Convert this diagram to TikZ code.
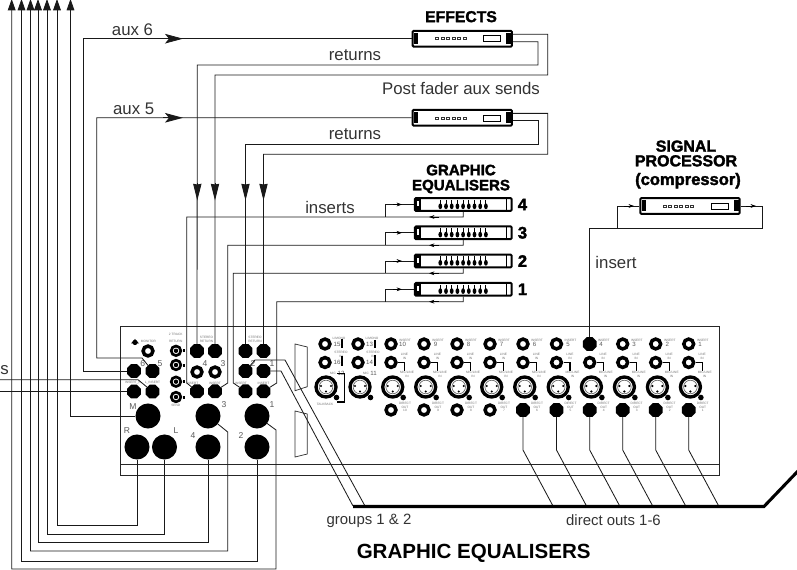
\documentclass[tikz,border=0pt]{standalone}
\usepackage{fontspec}
\setmainfont{Liberation Sans}[BoldFeatures={FakeBold=2}]
\newfontfamily\plainbold{Liberation Sans Bold}
\usetikzlibrary{arrows.meta,calc,shapes.geometric}
\tikzset{
  wire/.style={line width=0.62pt,draw=black!90},
  thickbus/.style={line width=2.3pt,draw=black},
  headh/.style={wire,-{Stealth[length=13.5pt,width=7.2pt,inset=3pt]}},
  headv/.style={wire,-{Stealth[length=12.5pt,width=6.2pt,inset=0.5pt]}},
  headtop/.style={wire,{Stealth[length=8.5pt,width=5.8pt,inset=0pt]}-},
  minihead/.style={line width=0.5pt,-{Stealth[length=4pt,width=2.8pt,inset=1.2pt]}},
  jb/.style={regular polygon,regular polygon sides=8,fill=black,draw=none,inner sep=0pt,outer sep=0pt,minimum size=11.2pt},
  jo/.style={circle,draw=black,fill=white,line width=2.6pt,inner sep=0pt,outer sep=1pt,minimum size=7.4pt},
  jbig/.style={circle,fill=black,inner sep=0pt,outer sep=0pt,minimum size=18.8pt},
  rca/.style={circle,draw=black,fill=white,line width=2pt,inner sep=0pt,outer sep=0pt,minimum size=7.2pt},
  rackbox/.style={rectangle,rounded corners=0.8pt,draw=black,fill=white,line width=1.5pt,inner sep=0pt,minimum width=74.5pt,minimum height=11.8pt},
  eqrack/.style={rackbox,minimum width=72.5pt,minimum height=9.6pt},
  lab/.style={inner sep=0pt,text=black!80,font=\fontsize{12.6}{14}\selectfont},
  lowlab/.style={lab,font=\fontsize{11.2}{13}\selectfont},
  head/.style={inner sep=0pt,align=center,text=black,font=\fontsize{11.8}{11}\selectfont\bfseries},
  sign/.style={inner sep=0pt,text=black!65,font=\fontsize{6.4}{7}\selectfont},
  num/.style={inner sep=0pt,text=black!65,font=\fontsize{4.6}{5}\selectfont},
  tinylab/.style={inner sep=0pt,align=center,text=black!55,font=\fontsize{2.4}{2.9}\selectfont}
}
\newcommand{\effectsbox}[3]{%
  \node[rackbox] (#1) at (#2,#3) {};
  \fill[black] (#2-48,#3-5.5) rectangle (#2-44,#3+5.5);
  \fill[black] (#2+44,#3-5.5) rectangle (#2+49,#3+5.5);
  \foreach \k in {0,1,2,3,4,5} {\draw[line width=0.4pt,black!80] (#2-27+\k*5.5,#3-1) rectangle ++(3.2,2);}
  \draw[line width=0.35pt] (#2+21,#3-3) rectangle (#2+38,#3+3);
}
\newcommand{\eqbox}[2]{%
  \node[eqrack] (#1) at (463.3,#2) {};
  \fill[black] (414.5,#2-6.5) rectangle (421,#2+6.5);
  \fill[white] (416.5,#2-3.3) rectangle (419.4,#2+2);
  \draw[line width=0.4pt] (506.5,#2-6.5) -- (506.5,#2+6.5);
  \foreach \k in {0,...,8} {
    \draw[line width=0.7pt] (440.3+\k*5.7,#2-4.5) -- (440.3+\k*5.7,#2+1);
    \fill[black] (440.3+\k*5.7,#2+1.8) ellipse (1.9 and 2.9);
  }
}
\newcommand{\xlrjack}[3]{%
  \draw[line width=2.5pt,fill=white] (#2,#3) circle (10);
  \draw[line width=0.5pt,black!60] (#2,#3) circle (6.8);
  \fill (#2-5,#3-1) circle (1.2) (#2+5,#3-1) circle (1.2) (#2,#3+4.5) circle (1.2);
  \fill (#2+10.5,#3+10.5) circle (2.8);
  \coordinate (#1) at (#2,#3);
}
\begin{document}
\begin{tikzpicture}[x=0.75pt,y=-0.75pt]
\useasboundingbox (0,0) rectangle (797,570);

% mixer rear panel
\draw[line width=0.7pt,black!85] (120.5,326) rectangle (719,475.7);
\draw[line width=0.7pt,black!85] (120.5,464) -- (719,464);
\draw[line width=0.55pt,black!80] (295,344) -- (307.3,347) -- (307.3,386.7) -- (295,390.7) -- cycle;
\draw[line width=0.55pt,black!80] (295,411) -- (307.3,414) -- (307.3,454) -- (295,457) -- cycle;

% left block
\fill (135,342.5) circle (2.6); \fill (131,343.5) -- (139,343.5) -- (135,339) -- cycle;
\node[tinylab] (tmon) at (148.5,341.7) {MONITOR};
\node[jo] (monjack) at (148,351) {};
\node[jb] (j6) at (134,371) {};
\node[jb] (j5) at (152.5,371) {};
\node[jb] (ri) at (134,391.6) {};
\node[jb] (li) at (152.5,391.6) {};
\node[tinylab] (tri) at (133,382.5) {INSERT\_R};
\node[tinylab] (tli) at (152.5,382.5) {L\_INSERT};
\node[sign] (n6) at (142.7,364) {6};
\node[sign] (n5) at (160,364) {5};
\node[jbig] (jm) at (148,416) {};
\node[jbig] (jr) at (137,447) {};
\node[jbig] (jl) at (164.5,447) {};
\node[jbig] (j3) at (208,416) {};
\node[jbig] (j4big) at (208,447) {};
\node[jbig] (j1big) at (257,416) {};
\node[jbig] (j2big) at (257,447) {};
\node[sign] (lm) at (133,407) {M};
\node[sign] (lr) at (127,431) {R};
\node[sign] (ll) at (176,431) {L};
\node[sign] (l3) at (224,405) {3};
\node[sign] (l4) at (193,436) {4};
\node[sign] (l1) at (272,405) {1};
\node[sign] (l2) at (241,436) {2};

% tape in / out
\node[tinylab] (t2t) at (175.7,334.3) {2 TRACK};
\node[tinylab] (tret) at (175.7,341.2) {RETURN};
\node[tinylab] (tsend) at (175.7,405.8) {SEND};
\node[rca] (ra) at (176,350.8) {}; \fill (176,350.8) circle (2.2);
\node[rca] (rb) at (176,365) {}; \fill (176,365) circle (2.2);
\node[rca] (rc) at (176,381.7) {}; \fill (176,381.7) circle (2.2);
\node[rca] (rd) at (176,397) {}; \fill (176,397) circle (2.2);
\foreach \yy in {351,365.5,382,397.5} {\fill (182.5,\yy-1.5) rectangle (184.5,\yy+1.5);}

% stereo return / group blocks
\node[tinylab] (st1) at (206.5,339.8) {STEREO\\RETURN};
\node[tinylab] (st2) at (255,339.8) {STEREO\\RETURN};
\node[jb] (sra) at (197,351) {};
\node[jb] (srb) at (215,351) {};
\node[jo] (mid4) at (197,372) {};
\node[jo] (mid3) at (215,372) {};
\node[jb] (ina) at (197,391.3) {};
\node[jb] (inb) at (215,391.3) {};
\node[jb] (src) at (245.5,351) {};
\node[jb] (srd) at (263.5,351) {};
\node[jb] (g2) at (245.5,371) {};
\node[jb] (g1) at (263.5,371) {};
\node[jb] (inc) at (245.5,391.3) {};
\node[jb] (ind) at (263.5,391.3) {};
\node[sign] (n4) at (205,364) {4};
\node[sign] (n3) at (223,364) {3};
\node[sign] (n2) at (253,364) {2};
\node[sign] (n1) at (272,364) {1};
\node[tinylab] (ta) at (192.5,383) {INSERT};
\node[tinylab] (tb) at (215,383) {INSERT};
\node[tinylab] (tc) at (241,383) {INSERT};
\node[tinylab] (td) at (263.5,383) {INSERT};

% channel strips
\foreach \n/\x in {10/391,9/424,8/457,7/490,6/523,5/556.5,3/622.7,2/655.7,1/688.7} {
  \node[jo] (ins\n) at (\x,344) {};
}
\node[jb] (ins4) at (589.7,344) {};
\foreach \n/\x in {10/391,9/424,8/457,7/490,6/523,5/556.5,4/589.7,3/622.7,2/655.7,1/688.7} {
  \draw[line width=0.8pt] (\x+7,362.5) -- (\x+13.5,362.5) -- (\x+13.5,371);
  \node[jo] (line\n) at (\x,362.5) {};
  \node[tinylab] (tins\n) at (\x+14,340) {INSERT};
  \node[tinylab] (tline\n) at (\x+13.5,356.3) {LINE\\IN};
  \node[tinylab] (tmic\n) at (\x+16,374) {MIC/LINE\\IN};
  \node[tinylab] (tout\n) at (\x+14,407) {DIRECT\\OUT\\\n};
  \node[num] (nins\n) at (\x+11.5,344.3) {\n};
  \xlrjack{xlr\n}{\x+1.7}{387}
}
\foreach \n/\x in {10/391,9/424,8/457,7/490} {\node[jo] (dir\n) at (\x,410) {};}
\foreach \n/\x in {6/523,5/556.5,4/589.7,3/622.7,2/655.7,1/688.7} {\node[jb] (dir\n) at (\x,410) {};}

% stereo channels
\node[jo] (s15) at (325,344) {};
\node[jo] (s16) at (325,362.5) {};
\node[jo] (s13) at (358,344) {};
\node[jo] (s14) at (358,362.5) {};
\xlrjack{xlr12}{326}{387}
\xlrjack{xlr11}{360}{387}
\node[num] (ln15) at (337,344.3) {15};
\node[num] (ln16) at (337,362.8) {16};
\node[num] (ln13) at (369.5,344.3) {13};
\node[num] (ln14) at (369.5,362.8) {14};
\node[num] (ln12) at (341,373.5) {12};
\node[num] (ln11) at (373.5,373.5) {11};
\node[tinylab] (tm12) at (333,373.5) {MIC};
\node[tinylab] (tm11) at (366,373.5) {MIC};
\node[tinylab] (tl15) at (339,338.5) {L/MONO};
\node[tinylab] (tl13) at (372,338.5) {L/MONO};
\node[tinylab] (ts15) at (341,354.5) {STEREO\\IN};
\node[tinylab] (ts13) at (373,354.5) {STEREO\\IN};
\node[tinylab] (ttb) at (325,404.5) {TALKBACK};
\draw[line width=0.8pt] (342,339.5) -- (342,348);
\draw[line width=0.8pt] (342,356) -- (342,366);
\draw[line width=0.8pt] (337,373.5) -- (344.5,373.5) -- (344.5,402) -- (337,402);
\draw[line width=0.8pt] (375,340) -- (375,348);
\draw[line width=0.8pt] (375,355) -- (375,366);

% outboard units
\effectsbox{eff1}{462.3}{38.7}
\effectsbox{eff2}{462.3}{117.8}
\effectsbox{sp}{690}{206}
\eqbox{eq4}{204.5}
\eqbox{eq3}{232.8}
\eqbox{eq2}{261}
\eqbox{eq1}{289.3}

% aux sends
\draw[wire] (eff1.west) -- (83,38.7) -- (83,371) -- (j6);
\draw[wire] (eff2.west) -- (96.7,117.8) -- (96.7,358) -- (142,358) -- (j5);
\draw[headh] (163,38.7) -- (183,38.7);
\draw[headh] (163,117.8) -- (183,117.8);

% returns
\coordinate (ra1) at ($(eff1.east)+(0,-4.4)$);
\coordinate (rb1) at ($(eff1.east)+(0,3)$);
\coordinate (ra2) at ($(eff2.east)+(0,-4.4)$);
\coordinate (rb2) at ($(eff2.east)+(0,3)$);
\draw[wire] (ra1) -- (547.7,34.3) -- (547.7,75) -- (215,75) -- (srb);
\draw[wire] (rb1) -- (538,41.7) -- (538,65) -- (197.3,65) -- (sra);
\draw[wire] (ra2) -- (547.7,113.4) -- (547.7,154.3) -- (263.5,154.3) -- (srd);
\draw[wire] (rb2) -- (538,120.8) -- (538,144.3) -- (245.5,144.3) -- (src);
\foreach \x in {197.3,215,245.5,263.5} {\draw[headv] (\x,183) -- (\x,200.5);}

% graphic equaliser inserts
\draw[wire] (eq4.west) -- (385,204.5) -- (385,217);
\draw[wire] (eq4.south) -- (463.3,217) -- (186.7,217) -- (186.7,383) -- (ina);
\draw[wire] (eq3.west) -- (385,232.8) -- (385,245.3);
\draw[wire] (eq3.south) -- (463.3,245.3) -- (227.7,245.3) -- (227.7,383) -- (inb);
\draw[wire] (eq2.west) -- (385,261) -- (385,273.3);
\draw[wire] (eq2.south) -- (463.3,273.3) -- (233.3,273.3) -- (233.3,383) -- (inc);
\draw[wire] (eq1.west) -- (385,289.3) -- (385,301.7);
\draw[wire] (eq1.south) -- (463.3,301.7) -- (276.7,301.7) -- (276.7,383) -- (ind);
\foreach \yy in {204.5,232.8,261,289.3} {\draw[minihead] (393,\yy) -- (402,\yy);}
\foreach \yy in {217,245.3,273.3,301.7} {\draw[minihead] (439,\yy) -- (429,\yy);}

% compressor on insert 4
\draw[wire] (sp.west) -- (617,206) -- (617,228.3);
\draw[wire] (sp.east) -- (762.7,206) -- (762.7,228.3) -- (589.7,228.3) -- (ins4);
\draw[minihead] (624,206) -- (634,206);
\draw[minihead] (746,206) -- (756,206);

% outputs to left edge
\coordinate (tt1) at (11.7,-1); \coordinate (tt2) at (21.5,-1); \coordinate (tt3) at (30.5,-1);
\coordinate (tt4) at (38,-1); \coordinate (tt5) at (47,-1); \coordinate (tt6) at (57,-1);
\coordinate (tt7) at (70.5,-1);
\draw[headtop] (tt1) -- (11.7,569) -- (276,569) -- (276,430) -- (j1big);
\draw[headtop] (tt2) -- (21.5,561) -- (257,561) -- (j2big);
\draw[headtop] (tt3) -- (30.5,551) -- (227.7,551) -- (227.7,432) -- (j3);
\draw[headtop] (tt4) -- (38,542) -- (208,542) -- (j4big);
\draw[headtop] (tt5) -- (47,534.5) -- (164.5,534.5) -- (jl);
\draw[headtop] (tt6) -- (57,525) -- (137,525) -- (jr);
\draw[headtop] (tt7) -- (70.5,416) -- (jm);
\coordinate (edgea) at (-2,379.7);
\coordinate (edgeb) at (-2,391.6);
\draw[wire] (edgea) -- (138,379.7) -- (li);
\draw[wire] (edgeb) -- (ri);

% groups and direct outs
\coordinate (busa) at (353,506.5);
\coordinate (busb) at (764,506.5);
\coordinate (busc) at (798,471);
\draw[wire] (g2) -- (255,360) -- (285,360) -- (365,506);
\draw[wire] (g1) -- (281,371) -- (353,506);
\foreach \n/\x in {6/523,5/556.5,4/589.7,3/622.7,2/655.7,1/688.7} {
  \draw[wire] (dir\n) -- (\x,450) -- (\x+30,506);
}
\draw[thickbus,line join=miter] (busa) -- (busb) -- (busc);

% text
\node[head] (theff) at (461,16.7) {EFFECTS};
\node[head,font=\fontsize{11.3}{11.3}\selectfont\bfseries] (theq) at (461,179) {GRAPHIC\\EQUALISERS};
\node[head,font=\fontsize{12}{11}\selectfont\bfseries] (thsp1) at (686,153.5) {SIGNAL\\PROCESSOR};
\node[head,font=\fontsize{12.4}{14}\selectfont\bfseries] (thsp2) at (688,180.7) {(compressor)};
\foreach \n/\yy in {4/204.5,3/232.8,2/261,1/289.3} {
  \node[head,font=\fontsize{12.5}{14}\selectfont\bfseries] (eqn\n) at (522.5,\yy) {\n};
}
\node[lab] (taux6) at (132.5,30) {aux 6};
\node[lab] (taux5) at (133.7,108.5) {aux 5};
\node[lab] (tret1) at (355,55) {returns};
\node[lab] (tret2) at (355,134) {returns};
\node[lab] (tpost) at (461,88) {Post fader aux sends};
\node[lab] (tinserts) at (330,207) {inserts};
\node[lab] (tinsert) at (616,262) {insert};
\node[lowlab] (tgroups) at (369,520.5) {groups 1 \& 2};
\node[lowlab] (tdirect) at (613.5,520) {direct outs 1-6};
\node[inner sep=0pt,font=\fontsize{15.4}{17}\plainbold\selectfont] (tbottom) at (473.7,553.5) {GRAPHIC EQUALISERS};
\node[lab,anchor=west] (tcut) at (0,370) {s};
\end{tikzpicture}
\end{document}
